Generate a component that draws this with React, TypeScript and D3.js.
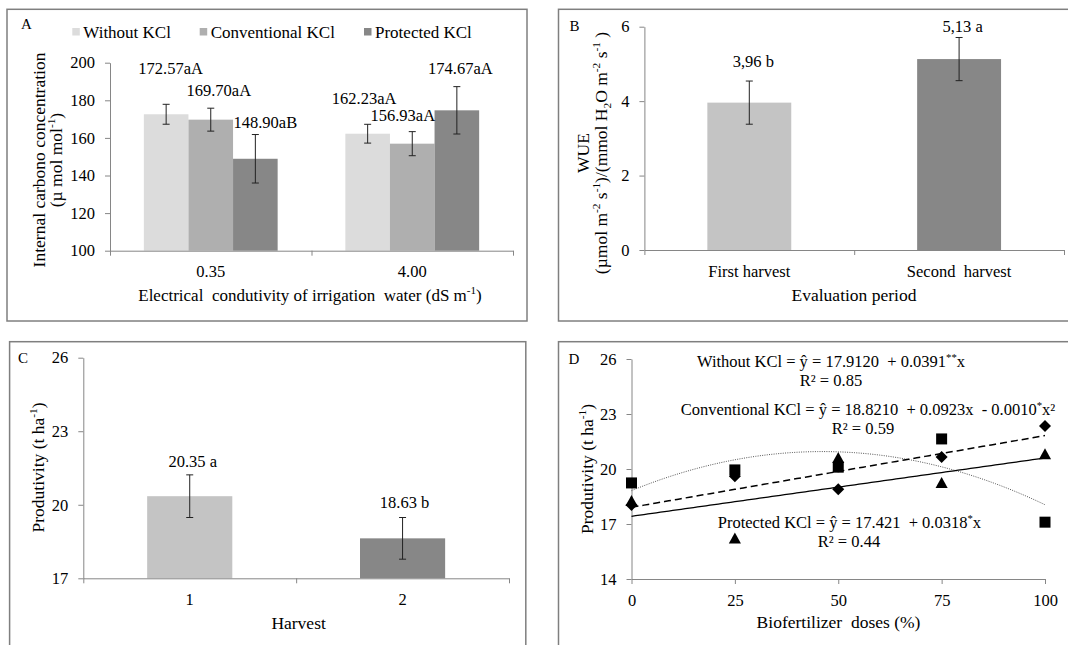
import React, { useEffect, useRef } from "react";
import * as d3 from "d3";

// A: internal carbon concentration by irrigation water EC and KCl source
const ecLevels = ["0.35", "4.00"];
const kclTypes = ["Without KCl", "Conventional KCl", "Protected KCl"];
const ciMeans = [
  [172.57, 169.7, 148.9],
  [162.23, 156.93, 174.67],
];
const ciErrors = [
  [5.3, 6.1, 12.9],
  [5.0, 6.4, 12.6],
];
const ciLabels = [
  ["172.57aA", "169.70aA", "148.90aB"],
  ["162.23aA", "156.93aA", "174.67aA"],
];
const ciTicks = [100, 120, 140, 160, 180, 200];

// B: water use efficiency by evaluation period
const periods = ["First harvest", "Second  harvest"];
const wueMeans = [3.96, 5.13];
const wueErrors = [0.58, 0.58];
const wueLabels = ["3,96 b", "5,13 a"];
const wueTicks = [0, 2, 4, 6];

// C: productivity by harvest
const harvests = ["1", "2"];
const prodMeans = [20.35, 18.63];
const prodErrors = [0.87, 0.85];
const prodLabels = ["20.35 a", "18.63 b"];
const prodTicks = [17, 20, 23, 26];

// D: productivity by biofertilizer dose
const doses = [0, 25, 50, 75, 100];
const withoutKcl = [18.04, 19.6, 18.9, 20.65, 22.35];
const conventionalKcl = [19.24, 19.95, 20.1, 21.64, 17.1];
const protectedKcl = [18.25, 16.2, 20.6, 19.24, 20.8];
// fitted equations printed on the chart: a + b x + c x^2
const withoutFit = [17.912, 0.0391, 0];
const conventionalFit = [18.821, 0.0923, -0.001];
const protectedFit = [17.421, 0.0318, 0];
const doseTicks = [14, 17, 20, 23, 26];

const W = 1068;
const H = 645;
const FONT = "'Liberation Serif', 'Times New Roman', serif";
const AXIS = "#868686";
const INK = "#000";

type Part = string | [string, "sup" | "sub"];

function rich(t: any, parts: Part[], fs: number) {
  let shift = 0;
  parts.forEach((p) => {
    const str = typeof p === "string" ? p : p[0];
    const kind = typeof p === "string" ? "" : p[1];
    const target = kind === "sup" ? -fs * 0.38 : kind === "sub" ? fs * 0.22 : 0;
    t.append("tspan")
      .attr("dy", target - shift)
      .attr("font-size", kind ? fs * 0.65 : fs)
      .text(str);
    shift = target;
  });
}

function label(g: any, x: number, y: number, parts: Part[], fs: number, rotate = false, anchor = "middle") {
  const t = g
    .append("text")
    .attr("font-family", FONT)
    .attr("font-size", fs)
    .attr("fill", INK)
    .attr("text-anchor", anchor)
    .style("white-space", "pre");
  if (rotate) {
    t.attr("transform", `translate(${x},${y}) rotate(-90)`).attr("x", 0).attr("y", fs * 0.35);
  } else {
    t.attr("x", x).attr("y", y + fs * 0.35);
  }
  rich(t, parts, fs);
  return t;
}

function styleAxis(ax: any) {
  ax.attr("font-family", FONT).attr("font-size", 16.5);
  ax.select(".domain").attr("stroke", AXIS);
  ax.selectAll(".tick line").attr("stroke", AXIS);
  ax.selectAll(".tick text").attr("fill", INK);
}

function yAxis(g: any, y: any, left: number, ticks: number[]) {
  const ax = g
    .append("g")
    .attr("transform", `translate(${left},0)`)
    .call(
      d3
        .axisLeft(y)
        .tickValues(ticks)
        .tickFormat((d: any) => String(d))
        .tickSize(5)
        .tickSizeOuter(0)
        .tickPadding(10)
    );
  styleAxis(ax);
}

function catAxis(g: any, left: number, right: number, yPos: number, n: number) {
  const s = d3.scaleLinear().domain([0, n]).range([left, right]);
  const ax = g
    .append("g")
    .attr("transform", `translate(0,${yPos})`)
    .call(
      d3
        .axisBottom(s)
        .tickValues(d3.range(n + 1))
        .tickSize(5)
        .tickSizeOuter(0)
        .tickFormat(() => "")
    );
  styleAxis(ax);
}

function errorBar(g: any, cx: number, yTop: number, yBot: number) {
  const e = g.append("g").attr("stroke", "#222").attr("stroke-width", 1);
  e.append("line").attr("x1", cx).attr("x2", cx).attr("y1", yTop).attr("y2", yBot);
  e.append("line").attr("x1", cx - 3.5).attr("x2", cx + 3.5).attr("y1", yTop).attr("y2", yTop);
  e.append("line").attr("x1", cx - 3.5).attr("x2", cx + 3.5).attr("y1", yBot).attr("y2", yBot);
}

function frame(svg: any, x: number, y: number, w: number, h: number) {
  svg
    .append("rect")
    .attr("x", x)
    .attr("y", y)
    .attr("width", w)
    .attr("height", h)
    .attr("fill", "none")
    .attr("stroke", "#7f7f7f")
    .attr("stroke-width", 1.5);
}

function simpleBars(
  g: any,
  cats: string[],
  means: number[],
  errs: number[],
  texts: string[],
  ticks: number[],
  box: { l: number; r: number; t: number; b: number },
  labelAt: number[],
  labelDx: number[]
) {
  const colors = ["#c4c4c4", "#878787"];
  const x = d3.scaleBand<string>().domain(cats).range([box.l, box.r]).paddingInner(0.6).paddingOuter(0.3);
  const y = d3
    .scaleLinear()
    .domain([ticks[0], ticks[ticks.length - 1]])
    .range([box.b, box.t]);
  cats.forEach((c, i) => {
    g.append("rect")
      .attr("x", x(c))
      .attr("y", y(means[i]))
      .attr("width", x.bandwidth())
      .attr("height", box.b - y(means[i]))
      .attr("fill", colors[i]);
  });
  yAxis(g, y, box.l, ticks);
  catAxis(g, box.l, box.r, box.b, cats.length);
  cats.forEach((c, i) => {
    const cx = (x(c) as number) + x.bandwidth() / 2;
    errorBar(g, cx, y(means[i] + errs[i]), y(means[i] - errs[i]));
    label(g, cx + labelDx[i], y(labelAt[i]), [texts[i]], 16.5);
    label(g, cx, box.b + 21, [c], 16.5);
  });
}

function draw(svg: any) {
  svg.append("rect").attr("width", W).attr("height", H).attr("fill", "#fff");

  frame(svg, 7, 9.3, 520, 311.7);
  frame(svg, 558.5, 9.3, 520, 311.7);
  frame(svg, 9.6, 341.7, 516.2, 330);
  frame(svg, 558.5, 341.7, 520, 330);

  // ---------- A ----------
  const gA = svg.append("g");
  const boxA = { l: 110, r: 513, t: 62.7, b: 250.7 };
  const xA = d3.scaleBand<string>().domain(ecLevels).range([boxA.l, boxA.r]).paddingInner(0.336).paddingOuter(0.168);
  const xAin = d3.scaleBand<string>().domain(kclTypes).range([0, xA.bandwidth()]);
  const yA = d3.scaleLinear().domain([100, 200]).range([boxA.b, boxA.t]);
  const colorA = d3.scaleOrdinal<string, string>().domain(kclTypes).range(["#dcdcdc", "#afafaf", "#878787"]);
  const ciLabelAt = [
    [197.0, 185.5, 168.6],
    [181.1, 172.2, 197.0],
  ];
  const ciLabelDx = [
    [4.5, 8, 10],
    [-3.5, -9.5, 3.5],
  ];

  ecLevels.forEach((ec, i) => {
    kclTypes.forEach((k, j) => {
      gA.append("rect")
        .attr("x", (xA(ec) as number) + (xAin(k) as number))
        .attr("y", yA(ciMeans[i][j]))
        .attr("width", xAin.bandwidth())
        .attr("height", boxA.b - yA(ciMeans[i][j]))
        .attr("fill", colorA(k));
    });
  });
  yAxis(gA, yA, boxA.l, ciTicks);
  catAxis(gA, boxA.l, boxA.r, boxA.b, ecLevels.length);
  ecLevels.forEach((ec, i) => {
    kclTypes.forEach((k, j) => {
      const cx = (xA(ec) as number) + (xAin(k) as number) + xAin.bandwidth() / 2;
      errorBar(gA, cx, yA(ciMeans[i][j] + ciErrors[i][j]), yA(ciMeans[i][j] - ciErrors[i][j]));
      label(gA, cx + ciLabelDx[i][j], yA(ciLabelAt[i][j]), [ciLabels[i][j]], 16.5);
    });
    label(gA, (xA(ec) as number) + xA.bandwidth() / 2, boxA.b + 21, [ec], 16.5);
  });

  // legend
  const legendX = [72.3, 199.7, 364];
  kclTypes.forEach((k, j) => {
    gA.append("rect").attr("x", legendX[j]).attr("y", 28).attr("width", 7.5).attr("height", 7.5).attr("fill", colorA(k));
    label(gA, legendX[j] + 11, 31.7, [k], 17, false, "start");
  });

  label(gA, 21, 24, ["A"], 15, false, "start");
  label(gA, 38.5, 160, ["Internal carbono concentration"], 17.5, true);
  label(gA, 56, 160, ["(µ mol mol", ["-1", "sup"], ")"], 17.5, true);
  label(gA, 310, 295, ["Electrical  condutivity of irrigation  water (dS m", ["-1", "sup"], ")"], 17);

  // ---------- B ----------
  const gB = svg.append("g");
  simpleBars(
    gB,
    periods,
    wueMeans,
    wueErrors,
    wueLabels,
    wueTicks,
    { l: 644.4, r: 1064, t: 26.7, b: 250 },
    [5.06, 6.02],
    [4, 3.5]
  );
  label(gB, 569.6, 26, ["B"], 15, false, "start");
  label(gB, 583, 153, ["WUE"], 17.5, true);
  label(
    gB,
    601,
    153,
    [
      "(µmol m",
      ["-2", "sup"],
      " s",
      ["-1", "sup"],
      ")/(mmol H",
      ["2", "sub"],
      "O m",
      ["-2", "sup"],
      " s",
      ["-1", "sup"],
      " )",
    ],
    17.5,
    true
  );
  label(gB, 854, 295, ["Evaluation period"], 17.5);

  // ---------- C ----------
  const gC = svg.append("g");
  simpleBars(
    gC,
    harvests,
    prodMeans,
    prodErrors,
    prodLabels,
    prodTicks,
    { l: 83.3, r: 509, t: 357.7, b: 578.3 },
    [21.76, 20.12],
    [3, 2]
  );
  label(gC, 17.9, 357.7, ["C"], 15, false, "start");
  label(gC, 37.9, 467.5, ["Produtivity (t ha", ["-1", "sup"], ")"], 17.5, true);
  label(gC, 298.6, 623.3, ["Harvest"], 17.5);

  // ---------- D ----------
  const gD = svg.append("g");
  const boxD = { l: 631.5, r: 1045, t: 359, b: 579 };
  const xD = d3.scaleLinear().domain([0, 100]).range([boxD.l, boxD.r]);
  const yD = d3.scaleLinear().domain([14, 26]).range([boxD.b, boxD.t]);

  yAxis(gD, yD, boxD.l, doseTicks);
  const axD = gD
    .append("g")
    .attr("transform", `translate(0,${boxD.b})`)
    .call(
      d3
        .axisBottom(xD)
        .tickValues(doses)
        .tickFormat((d: any) => String(d))
        .tickSize(5)
        .tickSizeOuter(0)
        .tickPadding(10)
    );
  styleAxis(axD);

  const fit = (c: number[]) => (x: number) => c[0] + c[1] * x + c[2] * x * x;
  const xs = d3.range(0, 100.01, 1);
  const line = (f: (x: number) => number) =>
    d3
      .line<number>()
      .x((d) => xD(d))
      .y((d) => yD(f(d)))(xs);

  gD.append("path")
    .attr("d", line(fit(conventionalFit)))
    .attr("fill", "none")
    .attr("stroke", "#555")
    .attr("stroke-width", 1)
    .attr("stroke-dasharray", "1,1.3");
  gD.append("path")
    .attr("d", line(fit(withoutFit)))
    .attr("fill", "none")
    .attr("stroke", INK)
    .attr("stroke-width", 1.5)
    .attr("stroke-dasharray", "7,4");
  gD.append("path")
    .attr("d", line(fit(protectedFit)))
    .attr("fill", "none")
    .attr("stroke", INK)
    .attr("stroke-width", 1.3);

  const diamond = {
    draw(ctx: any, size: number) {
      const r = Math.sqrt(size / 2);
      ctx.moveTo(0, -r);
      ctx.lineTo(r, 0);
      ctx.lineTo(0, r);
      ctx.lineTo(-r, 0);
      ctx.closePath();
    },
  };
  const triangle = {
    draw(ctx: any, size: number) {
      const s = Math.sqrt(size);
      ctx.moveTo(0, -s * 0.55);
      ctx.lineTo(s * 0.55, s * 0.45);
      ctx.lineTo(-s * 0.55, s * 0.45);
      ctx.closePath();
    },
  };
  const series: [number[], any, number][] = [
    [conventionalKcl, d3.symbolSquare, 121],
    [withoutKcl, diamond, 72],
    [protectedKcl, triangle, 121],
  ];
  series.forEach(([vals, type, size]) => {
    gD.selectAll(null)
      .data(vals)
      .enter()
      .append("path")
      .attr("transform", (d: number, i: number) => `translate(${xD(doses[i])},${yD(d)})`)
      .attr("d", d3.symbol(type, size)())
      .attr("fill", INK);
  });

  label(gD, 831, 361.7, ["Without KCl = ŷ = 17.9120  + 0.0391", ["**", "sup"], "x"], 16.5);
  label(gD, 831, 380.7, ["R² = 0.85"], 16.5);
  label(gD, 868, 409, ["Conventional KCl = ŷ = 18.8210  + 0.0923x  - 0.0010", ["*", "sup"], "x²"], 16.5);
  label(gD, 863, 428, ["R² = 0.59"], 16.5);
  label(gD, 849.4, 522.3, ["Protected KCl = ŷ = 17.421  + 0.0318", ["*", "sup"], "x"], 16.5);
  label(gD, 849, 541, ["R² = 0.44"], 16.5);

  label(gD, 568.6, 359, ["D"], 15, false, "start");
  label(gD, 587, 469, ["Produtivity (t ha", ["-1", "sup"], ")"], 17.5, true);
  label(gD, 838.5, 621.7, ["Biofertilizer  doses (%)"], 17.5);
}

export default function App() {
  const ref = useRef<SVGSVGElement>(null);
  useEffect(() => {
    const svg = d3.select(ref.current);
    svg.selectAll("*").remove();
    draw(svg);
  }, []);
  return (
    <svg
      ref={ref}
      width={W}
      height={H}
      style={{ position: "absolute", left: 0, top: 0, display: "block" }}
    />
  );
}
